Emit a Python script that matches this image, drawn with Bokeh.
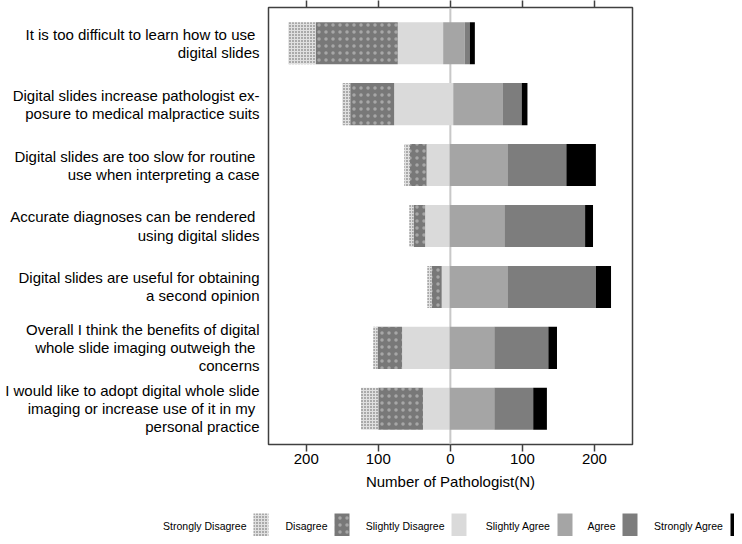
from bokeh.plotting import figure
from bokeh.models import Range1d, FixedTicker, LinearAxis, Span
from bokeh.layouts import column
from bokeh.embed import file_html
from bokeh.resources import INLINE
from bokeh.core.properties import value

questions = [
    "It is too difficult to learn how to use \ndigital slides",
    "Digital slides increase pathologist ex-\nposure to medical malpractice suits",
    "Digital slides are too slow for routine \nuse when interpreting a case",
    "Accurate diagnoses can be rendered \nusing digital slides",
    "Digital slides are useful for obtaining\na second opinion",
    "Overall I think the benefits of digital\nwhole slide imaging outweigh the \nconcerns",
    "I would like to adopt digital whole slide\nimaging or increase use of it in my \npersonal practice",
]
strongly_disagree = [38, 11, 8, 6, 6, 6, 24]
disagree = [114, 61, 23, 16, 14, 34, 62]
slightly_disagree = [63, 82, 32, 34, 11, 66, 37]
slightly_agree = [30, 69, 81, 76, 81, 62, 62]
agree = [7, 26, 81, 112, 122, 75, 54]
strongly_agree = [7, 8, 41, 11, 21, 12, 19]
split_offset = [-10, 4, -1, -1, -1, -1, -1]

x_ticks = [-200, -100, 0, 100, 200]
x_tick_labels = ["200", "100", "0", "100", "200"]
legend_labels = ["Strongly Disagree", "Disagree", "Slightly Disagree",
                 "Slightly Agree", "Agree", "Strongly Agree"]

FONT = "Liberation Sans"
FRAME = "#404040"

styles = [
    dict(fill_color="#e0e0e0", hatch_pattern="dot", hatch_color="#5a5a5a", hatch_scale=3, hatch_weight=1.6),
    dict(fill_color="#787878", hatch_pattern="dot", hatch_color="white", hatch_scale=7, hatch_weight=0.6, hatch_alpha=0.35),
    dict(fill_color="#dadada"),
    dict(fill_color="#a5a5a5"),
    dict(fill_color="#7d7d7d"),
    dict(fill_color="#000000"),
]

ypos = list(range(1, len(questions) + 1))

p = figure(width=734, height=500,
           x_range=Range1d(-252.4, 252.8), y_range=Range1d(7.585, 0.415),
           output_backend="svg", toolbar_location=None,
           min_border_left=268, min_border_right=102,
           min_border_top=7, min_border_bottom=56)
p.grid.visible = False
p.outline_line_color = FRAME
p.outline_line_width = 1.5
p.background_fill_color = "white"
p.border_fill_color = "white"

p.add_layout(Span(location=0, dimension="height", line_color="#c8c8c8",
                  line_width=2, level="underlay"))

# disagree side stacked outward (leftward) from the split
left_series = [(2, slightly_disagree), (1, disagree), (0, strongly_disagree)]
cur = list(split_offset)
for idx, series in left_series:
    new = [c - v for c, v in zip(cur, series)]
    p.hbar(y=ypos, left=new, right=cur, height=0.69, line_color=None, **styles[idx])
    cur = new

# agree side stacked outward (rightward) from the split
right_series = [(3, slightly_agree), (4, agree), (5, strongly_agree)]
cur = list(split_offset)
for idx, series in right_series:
    new = [c + v for c, v in zip(cur, series)]
    p.hbar(y=ypos, left=cur, right=new, height=0.69, line_color=None, **styles[idx])
    cur = new

# bottom x axis
xa = p.xaxis[0]
xa.ticker = FixedTicker(ticks=x_ticks)
xa.major_label_overrides = {t: l for t, l in zip(x_ticks, x_tick_labels)}
xa.axis_line_color = None
xa.major_tick_line_color = FRAME
xa.major_tick_line_width = 1.5
xa.major_tick_out = 7
xa.major_tick_in = 0
xa.minor_tick_line_color = None
xa.major_label_text_font = FONT
xa.major_label_text_font_size = "15px"
xa.major_label_text_color = "black"
xa.major_label_standoff = 2
xa.axis_label = "Number of Pathologist(N)"
xa.axis_label_text_font = FONT
xa.axis_label_text_font_size = "15px"
xa.axis_label_text_font_style = "normal"
xa.axis_label_text_color = "black"
xa.axis_label_standoff = 6

# top axis: ticks only
ta = LinearAxis(ticker=FixedTicker(ticks=x_ticks),
                major_label_overrides={t: "" for t in x_ticks},
                major_label_text_font_size="0px", major_label_standoff=0,
                axis_line_color=None, major_tick_line_color=FRAME,
                major_tick_line_width=1.5, major_tick_out=7, major_tick_in=0,
                minor_tick_line_color=None)
p.add_layout(ta, "above")

ya = p.yaxis[0]
ya.ticker = FixedTicker(ticks=ypos)
ya.major_label_overrides = {y: q for y, q in zip(ypos, questions)}
ya.axis_line_color = None
ya.major_tick_line_color = None
ya.minor_tick_line_color = None
ya.major_tick_out = 0
ya.major_label_standoff = 9
ya.major_label_text_font = FONT
ya.major_label_text_font_size = "15px"
ya.major_label_text_line_height = 1.06
ya.major_label_text_color = "black"

# legend strip: "label [swatch]" pairs, drawn in pixel coordinates of its own figure
leg = figure(width=734, height=36, x_range=Range1d(0, 734), y_range=Range1d(36, 0),
             output_backend="svg", toolbar_location=None,
             x_axis_type=None, y_axis_type=None,
             min_border_left=0, min_border_right=0, min_border_top=0, min_border_bottom=0)
if "frame_align" in leg.properties():
    leg.frame_align = False
    p.frame_align = False
leg.grid.visible = False
leg.outline_line_color = None
text_end = [246, 327, 444, 550, 615, 723]
for lab, xe, st in zip(legend_labels, text_end, styles):
    leg.text(x=[xe], y=[25], text=[lab], text_align="right", text_baseline="middle",
             text_font=value(FONT), text_font_size="10.5px", text_color="black")
    leg.quad(left=[xe + 7], right=[xe + 22], top=[13], bottom=[36], line_color=None, **st)

layout = column(p, leg, spacing=0)

open("out.html", "w").write(file_html(layout, INLINE))
